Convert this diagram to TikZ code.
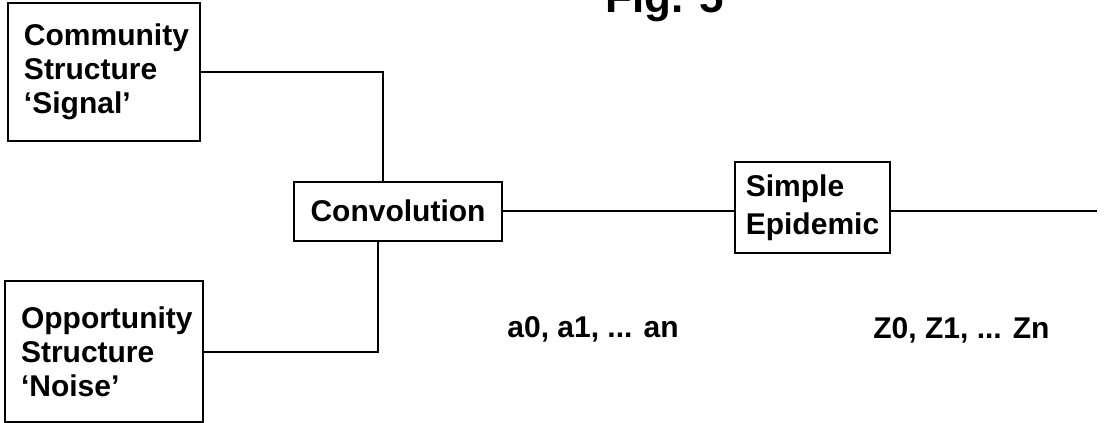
\documentclass[tikz,border=0pt]{standalone}
\usepackage{fontspec}
\setmainfont{Liberation Sans}
\usepackage{xcolor}
\usepackage{tikz}

\begin{document}
\begin{tikzpicture}[
        x=0.5pt, y=-0.5pt,
        box/.style={rectangle, draw=black, line width=1pt, align=left, inner xsep=8pt, inner ysep=2pt, font=\bfseries\fontsize{15}{17}\selectfont},
        wire/.style={line width=1pt},
        lbl/.style={anchor=base west, inner sep=0pt, font=\bfseries\fontsize{15}{17}\selectfont}
    ]
        \useasboundingbox (0,0) rectangle (1105,423);

        \node[anchor=base west, inner sep=0pt, font=\bfseries\fontsize{22}{24}\selectfont] (title) at (605,12) {Fig. 5};

        \node[box, text width=80pt, minimum height=69pt] (comm) at (104,72) {Community\\Structure\\`Signal'};
        \node[box, text width=83pt, minimum height=70.5pt] (opp) at (104,351.5) {Opportunity\\Structure\\`Noise'};
        \node[box, align=center, inner xsep=2pt, minimum width=104pt, minimum height=29.5pt] (conv) at (398,211) {Convolution};
        \node[box, inner xsep=2pt, minimum width=77.5pt, minimum height=45.5pt, font=\bfseries\fontsize{15}{19}\selectfont] (epi) at (812.5,207.5) {Simple\\Epidemic};

        \node[lbl] (seqa) at (507,337) {a0, a1, ... an};
        \node[lbl] (seqz) at (873,338) {Z0, Z1, ... Zn};

        \coordinate (out) at (1097,211);

        \draw[wire] (comm.east) -| ([xshift=-7.5pt]conv.north);
        \draw[wire] (opp.east) -| ([xshift=-10pt]conv.south);
        \draw[wire] (conv.east) -- (conv.east -| epi.west);
        \draw[wire] (out -| epi.east) -- (out);
    \end{tikzpicture}
\end{document}
